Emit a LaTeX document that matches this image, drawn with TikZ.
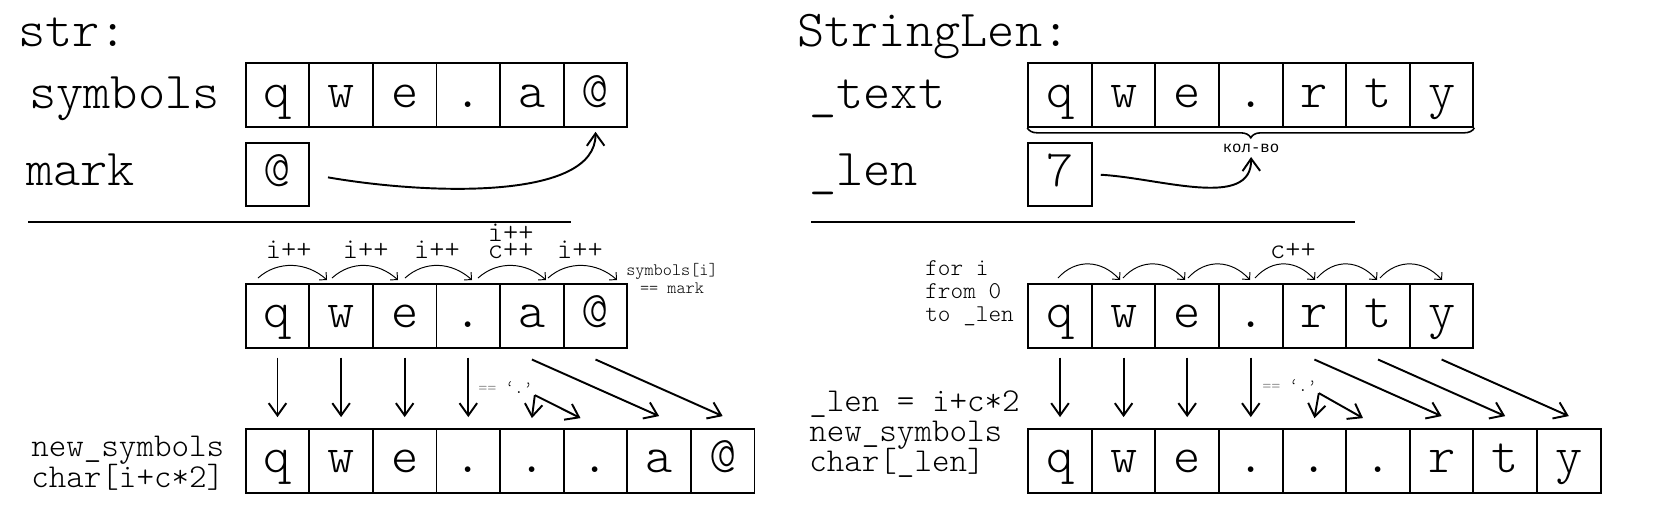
\documentclass[tikz,border=0pt]{standalone}
\usepackage{fontspec}
\IfFontExistsTF{Latin Modern Mono Light}{\setmonofont{Latin Modern Mono Light}}{}
\newfontfamily\cyrfont{Liberation Mono}
\usetikzlibrary{arrows.meta,decorations.pathreplacing}
\newcommand\cellfont{\ttfamily\fontsize{29.5}{34}\selectfont}
\newcommand\stepfont{\ttfamily\fontsize{16.5}{19}\selectfont}
\newcommand\namefont{\ttfamily\fontsize{19}{22}\selectfont}
\newcommand\loopfont{\ttfamily\fontsize{13.7}{16}\selectfont}
\newcommand\notefont{\ttfamily\fontsize{9.9}{12}\selectfont}
\begin{document}
\begin{tikzpicture}[x=0.02cm, y=-0.02cm,
		cell/.style={draw, line width=1.1pt, minimum width=1.272cm, minimum height=1.27cm, inner sep=0pt, text height=16pt, text depth=2.4pt, font=\cellfont},
		lbl/.style={anchor=base west, inner sep=0pt},
		namelbl/.style={lbl, font=\namefont, text height=11pt, text depth=3pt},
		note/.style={anchor=base, inner sep=0pt, font=\notefont},
		steplbl/.style={anchor=base, inner sep=0pt, font=\stepfont},
		pointer/.style={line width=1.1pt, -{Straight Barb[length=7pt,width=10pt]}},
		hop/.style={line width=0.55pt, -{Straight Barb[length=3pt,width=6pt]}}]
		\useasboundingbox (0,0) rectangle (1654,512);
		% Linke Seite: str
		\begin{scope}
			\node[lbl, font=\cellfont] (strname) at (18,46.7) {str:};
			\node[lbl, font=\cellfont] (symname) at (29,108.3) {symbols};
			\node[lbl, font=\cellfont] (markname) at (26,185) {mark};
			\node[cell] (sym1) at (277.5,95.1) {q};
			\node[cell] (sym2) at (341.1,95.1) {w};
			\node[cell] (sym3) at (404.7,95.1) {e};
			\node[cell] (sym4) at (468.3,95.1) {.};
			\node[cell] (sym5) at (531.9,95.1) {a};
			\node[cell] (sym6) at (595.5,95.1) {@};
			\node[cell] (mrk) at (277.5,174.3) {@};
			\draw[pointer, shorten <=0.36cm, shorten >=0.08cm] (mrk.east) .. controls (430,195) and (596,200) .. (sym6.south);
			\draw[line width=1.1pt] (28,222) -- (571,222);
		\end{scope}
		% Linke Seite: Schleife
		\begin{scope}
			\node[cell] (mid1) at (277.5,315.8) {q};
			\node[cell] (mid2) at (341.1,315.8) {w};
			\node[cell] (mid3) at (404.7,315.8) {e};
			\node[cell] (mid4) at (468.3,315.8) {.};
			\node[cell] (mid5) at (531.9,315.8) {a};
			\node[cell] (mid6) at (595.5,315.8) {@};
			\coordinate (hs1) at (258,278); \coordinate (he1) at (327,280);
			\coordinate (hs2) at (332,278); \coordinate (he2) at (398,280);
			\coordinate (hs3) at (405,278); \coordinate (he3) at (472,280);
			\coordinate (hs4) at (478,278); \coordinate (he4) at (546,280);
			\coordinate (hs5) at (548,278); \coordinate (he5) at (617,280);
			\draw[hop] (hs1) .. controls +(20,-18) and +(-20,-18) .. (he1);
			\draw[hop] (hs2) .. controls +(20,-18) and +(-20,-18) .. (he2);
			\draw[hop] (hs3) .. controls +(20,-18) and +(-20,-18) .. (he3);
			\draw[hop] (hs4) .. controls +(20,-18) and +(-20,-18) .. (he4);
			\draw[hop] (hs5) .. controls +(20,-18) and +(-20,-18) .. (he5);
			\node[steplbl] (inc1) at (288.7,258.3) {i++};
			\node[steplbl] (inc2) at (365.7,258.3) {i++};
			\node[steplbl] (inc3) at (437,258.3) {i++};
			\node[steplbl, text depth=0pt] (inc4) at (510.7,241.5) {i++};
			\node[steplbl, text height=8.5pt] (cnt4) at (510.7,258.3) {c++};
			\node[steplbl] (inc5) at (580,258.3) {i++};
			\node[note] (stop1) at (672,275) {symbols[i]};
			\node[note] (stop2) at (672,293) {== mark};
		\end{scope}
		% Linke Seite: new_symbols
		\begin{scope}
			\node[namelbl] (newname) at (31,456.7) {new\_symbols};
			\node[namelbl] (chrname) at (31,487.3) {char[i+c*2]};
			\node[cell] (out1) at (277.5,460.8) {q};
			\node[cell] (out2) at (341.1,460.8) {w};
			\node[cell] (out3) at (404.7,460.8) {e};
			\node[cell] (out4) at (468.3,460.8) {.};
			\node[cell] (out5) at (531.9,460.8) {.};
			\node[cell] (out6) at (595.5,460.8) {.};
			\node[cell] (out7) at (659.1,460.8) {a};
			\node[cell] (out8) at (722.7,460.8) {@};
			\node[lbl, font=\notefont, text=gray] (eq1) at (478,393) {==};
			\node[note, inner sep=1pt] (dotq1) at (519,393) {‘.’};
		\end{scope}
		% Linke Seite: Pfeile
		\draw[pointer, shorten <=0.18cm, shorten >=0.22cm] (mid1.south) -- (out1.north);
		\draw[pointer, shorten <=0.18cm, shorten >=0.22cm] (mid2.south) -- (out2.north);
		\draw[pointer, shorten <=0.18cm, shorten >=0.22cm] (mid3.south) -- (out3.north);
		\draw[pointer, shorten <=0.18cm, shorten >=0.22cm] (mid4.south) -- (out4.north);
		\draw[pointer] ([yshift=-0.22cm]mid5.south) -- ([yshift=0.24cm]out7.north);
		\draw[pointer] ([yshift=-0.22cm]mid6.south) -- ([yshift=0.24cm]out8.north);
		\draw[pointer] (dotq1.south east) -- ([yshift=0.2cm]out5.north);
		\draw[pointer] (dotq1.south east) -- ([shift={(-0.3cm,0.2cm)}]out6.north);
		% Rechte Seite: StringLen
		\begin{scope}
			\node[lbl, font=\cellfont] (clsname) at (797,46.7) {StringLen:};
			\node[lbl, font=\cellfont] (textname) at (809,108.3) {\_text};
			\node[lbl, font=\cellfont] (lenname) at (809,185) {\_len};
			\node[cell] (txt1) at (1060,95.1) {q};
			\node[cell] (txt2) at (1123.6,95.1) {w};
			\node[cell] (txt3) at (1187.2,95.1) {e};
			\node[cell] (txt4) at (1250.8,95.1) {.};
			\node[cell] (txt5) at (1314.4,95.1) {r};
			\node[cell] (txt6) at (1378,95.1) {t};
			\node[cell] (txt7) at (1441.6,95.1) {y};
			\node[cell] (len) at (1060,174.3) {7};
			\draw[line width=0.9pt, decorate, decoration={brace, amplitude=0.2cm}] (txt7.south east) -- (txt1.south west);
			\node[anchor=base, inner sep=0pt, font=\cyrfont\fontsize{8.9}{11}\selectfont] (kolvo) at (1251,152) {кол-во};
			\draw[pointer, shorten <=0.16cm, shorten >=0.09cm] (len.east) .. controls (1160,178) and (1252,210) .. (kolvo.south);
			\draw[line width=1.1pt] (811,222) -- (1355,222);
		\end{scope}
		% Rechte Seite: Schleife
		\begin{scope}
			\node[lbl, font=\loopfont] (loop1) at (925,275) {for i};
			\node[lbl, font=\loopfont] (loop2) at (925,298) {from 0};
			\node[lbl, font=\loopfont] (loop3) at (925,321) {to \_len};
			\node[cell] (inp1) at (1060,315.8) {q};
			\node[cell] (inp2) at (1123.6,315.8) {w};
			\node[cell] (inp3) at (1187.2,315.8) {e};
			\node[cell] (inp4) at (1250.8,315.8) {.};
			\node[cell] (inp5) at (1314.4,315.8) {r};
			\node[cell] (inp6) at (1378,315.8) {t};
			\node[cell] (inp7) at (1441.6,315.8) {y};
			\coordinate (ks1) at (1058,278); \coordinate (ke1) at (1120,280);
			\coordinate (ks2) at (1123,278); \coordinate (ke2) at (1185,280);
			\coordinate (ks3) at (1188,278); \coordinate (ke3) at (1250,280);
			\coordinate (ks4) at (1255,278); \coordinate (ke4) at (1315,280);
			\coordinate (ks5) at (1317,278); \coordinate (ke5) at (1377,280);
			\coordinate (ks6) at (1380,278); \coordinate (ke6) at (1442,280);
			\draw[hop] (ks1) .. controls +(18,-20) and +(-18,-20) .. (ke1);
			\draw[hop] (ks2) .. controls +(18,-20) and +(-18,-20) .. (ke2);
			\draw[hop] (ks3) .. controls +(18,-20) and +(-18,-20) .. (ke3);
			\draw[hop] (ks4) .. controls +(18,-20) and +(-18,-20) .. (ke4);
			\draw[hop] (ks5) .. controls +(18,-20) and +(-18,-20) .. (ke5);
			\draw[hop] (ks6) .. controls +(18,-20) and +(-18,-20) .. (ke6);
			\node[steplbl] (cntR) at (1293,258) {c++};
		\end{scope}
		% Rechte Seite: new_symbols
		\begin{scope}
			\node[namelbl] (lenexpr) at (809,411.7) {\_len = i+c*2};
			\node[namelbl] (newname2) at (809,441.7) {new\_symbols};
			\node[namelbl] (chrname2) at (809,471.7) {char[\_len]};
			\node[cell] (res1) at (1060,460.8) {q};
			\node[cell] (res2) at (1123.6,460.8) {w};
			\node[cell] (res3) at (1187.2,460.8) {e};
			\node[cell] (res4) at (1250.8,460.8) {.};
			\node[cell] (res5) at (1314.4,460.8) {.};
			\node[cell] (res6) at (1378,460.8) {.};
			\node[cell] (res7) at (1441.6,460.8) {r};
			\node[cell] (res8) at (1505.2,460.8) {t};
			\node[cell] (res9) at (1568.8,460.8) {y};
			\node[lbl, font=\notefont, text=gray] (eq2) at (1262,391) {==};
			\node[note, inner sep=1pt] (dotq2) at (1303,391) {‘.’};
		\end{scope}
		% Rechte Seite: Pfeile
		\draw[pointer, shorten <=0.18cm, shorten >=0.22cm] (inp1.south) -- (res1.north);
		\draw[pointer, shorten <=0.18cm, shorten >=0.22cm] (inp2.south) -- (res2.north);
		\draw[pointer, shorten <=0.18cm, shorten >=0.22cm] (inp3.south) -- (res3.north);
		\draw[pointer, shorten <=0.18cm, shorten >=0.22cm] (inp4.south) -- (res4.north);
		\draw[pointer] ([yshift=-0.22cm]inp5.south) -- ([yshift=0.24cm]res7.north);
		\draw[pointer] ([yshift=-0.22cm]inp6.south) -- ([yshift=0.24cm]res8.north);
		\draw[pointer] ([yshift=-0.22cm]inp7.south) -- ([yshift=0.24cm]res9.north);
		\draw[pointer] (dotq2.south east) -- ([yshift=0.2cm]res5.north);
		\draw[pointer] (dotq2.south east) -- ([shift={(-0.3cm,0.2cm)}]res6.north);
	\end{tikzpicture}
\end{document}
